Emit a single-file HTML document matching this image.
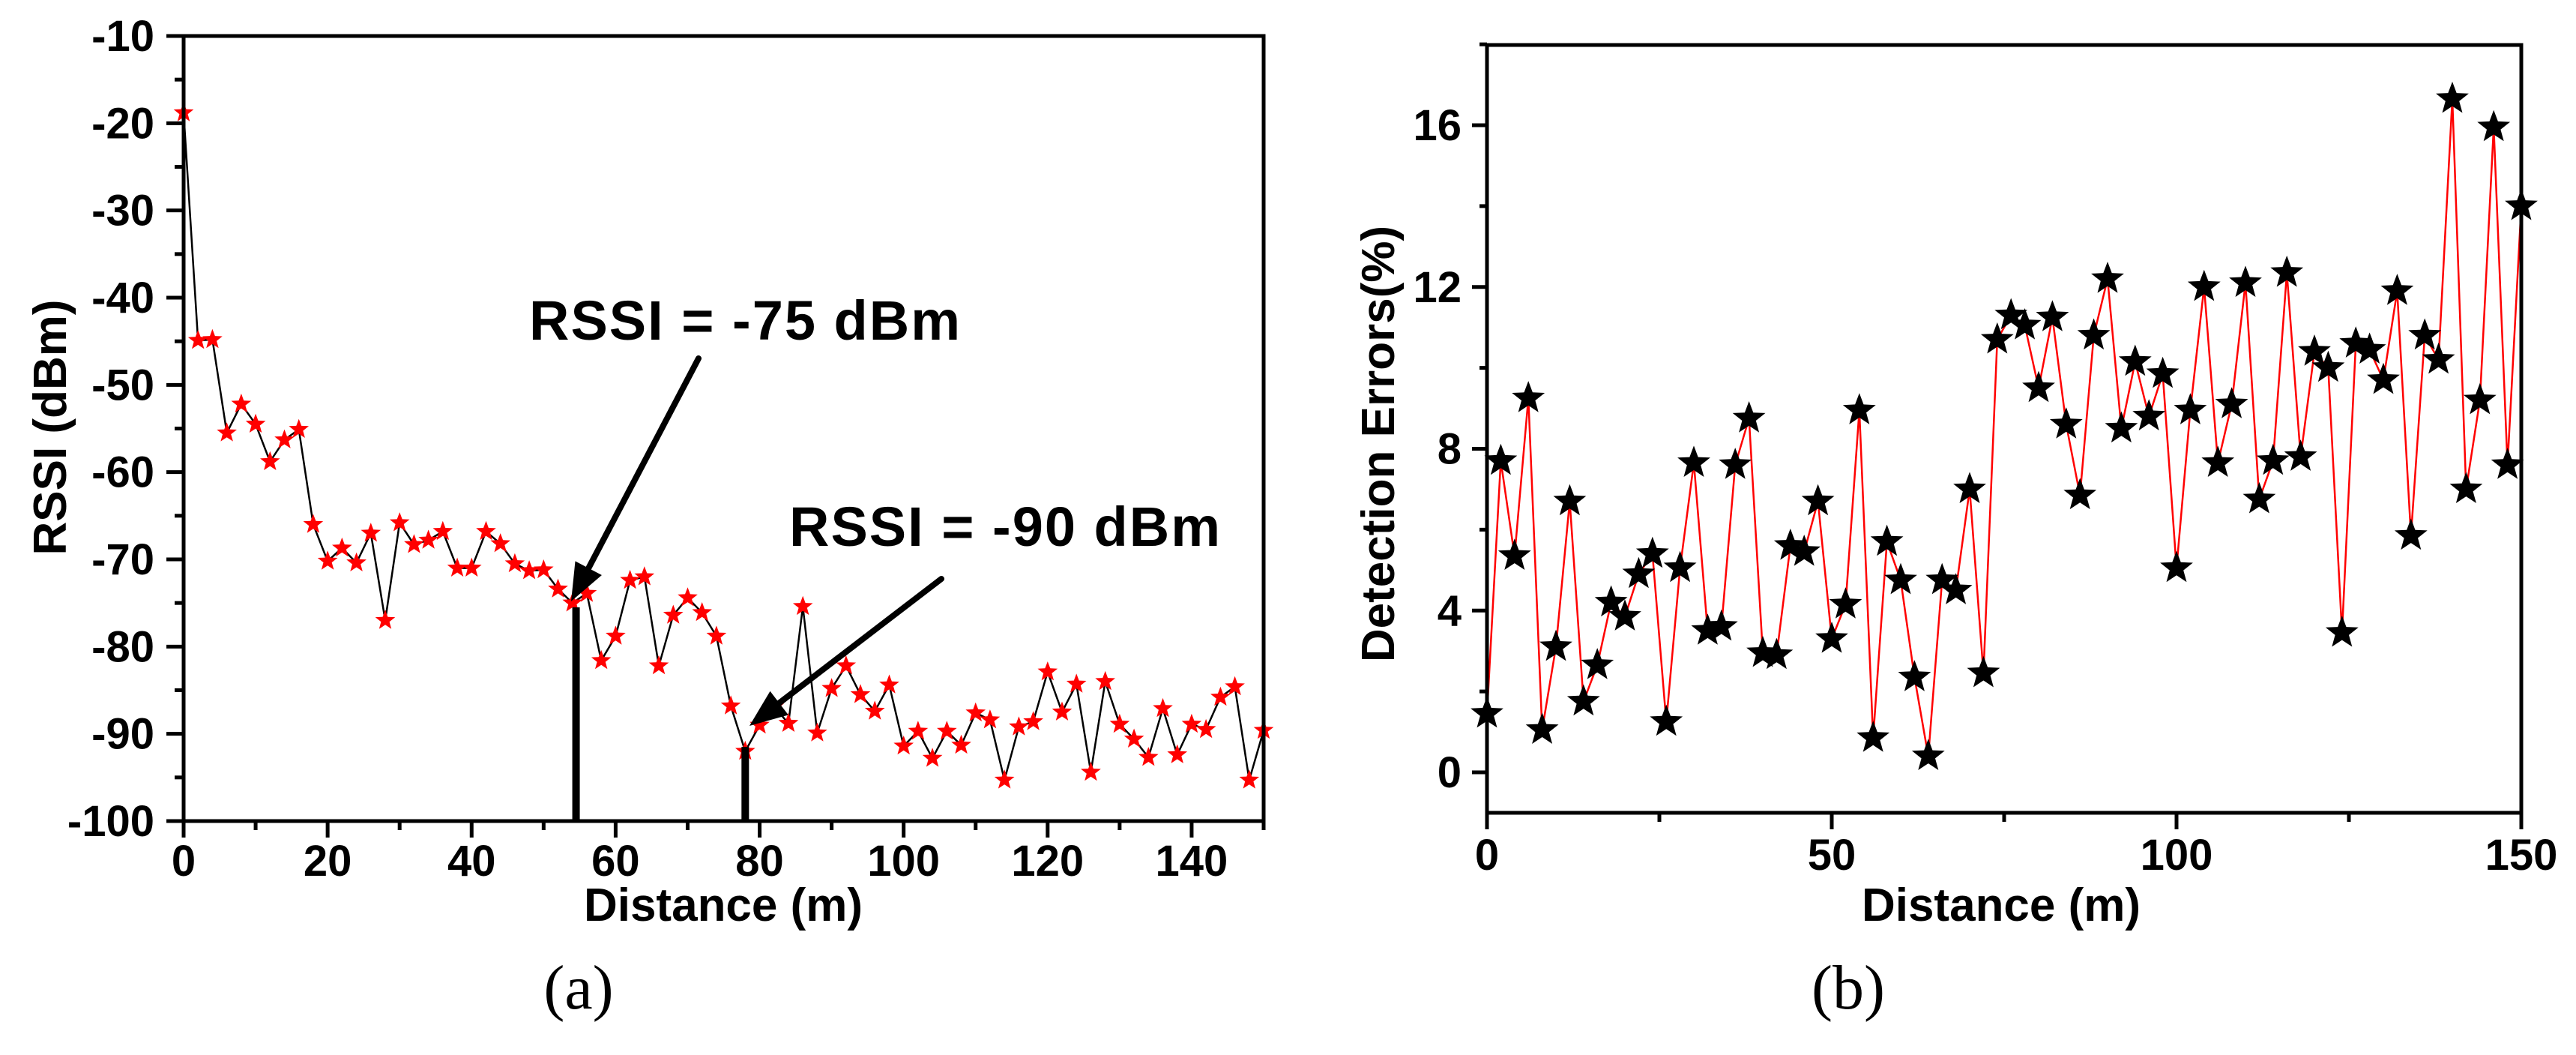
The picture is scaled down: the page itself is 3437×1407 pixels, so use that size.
<!DOCTYPE html>
<html><head><meta charset="utf-8"><style>
html,body{margin:0;padding:0;background:#fff;}
svg text{font-family:"Liberation Sans",Arial,sans-serif;font-weight:bold;}
</style></head><body>
<svg id="fig" xmlns="http://www.w3.org/2000/svg" width="3437" height="1402" viewBox="0 0 3437 1402">
<g id="chartA"></g>
<g id="chartB"></g>
</svg>
<script>
const distA = [];
for (let d = 0; d <= 150; d += 2) distA.push(d);
const rssiValues = [-18.8,-44.9,-44.8,-55.5,-52.2,-54.5,-58.8,-56.3,-55.1,-66,-70.2,-68.7,-70.4,-67,-77,-65.8,-68.3,-67.8,-66.8,-71,-71,-66.8,-68.2,-70.5,-71.3,-71.2,-73.4,-75,-73.9,-81.6,-78.8,-72.4,-72,-82.2,-76.4,-74.4,-76.1,-78.8,-86.8,-92,-89,-86.9,-88.8,-75.4,-89.9,-84.8,-82.2,-85.5,-87.4,-84.4,-91.4,-89.7,-92.8,-89.7,-91.3,-87.6,-88.4,-95.3,-89.2,-88.6,-82.9,-87.5,-84.3,-94.4,-84,-88.9,-90.6,-92.7,-87.1,-92.4,-88.9,-89.5,-85.8,-84.6,-95.3,-89.6];
const rssiTicks = [-10,-20,-30,-40,-50,-60,-70,-80,-90,-100];
const distTicksA = [0,20,40,60,80,100,120,140];
const errValues = [1.45,7.7,5.35,9.25,1.05,3.1,6.7,1.75,2.65,4.2,3.85,4.9,5.4,1.25,5.05,7.65,3.5,3.6,7.6,8.75,2.95,2.9,5.6,5.45,6.7,3.3,4.15,8.95,0.85,5.7,4.75,2.35,0.4,4.75,4.5,7.0,2.45,10.7,11.3,11.05,9.5,11.25,8.6,6.85,10.8,12.2,8.5,10.15,8.8,9.85,5.05,8.95,12.0,7.65,9.1,12.1,6.75,7.7,12.35,7.8,10.4,10.0,3.45,10.6,10.45,9.7,11.9,5.85,10.8,10.2,16.65,7.0,9.2,15.95,7.6,14.0];
const errTicks = [0,4,8,12,16];
const distTicksB = [0,50,100,150];

const NS = "http://www.w3.org/2000/svg";
function mk(parent, tag, attrs, text) {
  const e = document.createElementNS(NS, tag);
  for (const k in attrs) e.setAttribute(k, attrs[k]);
  if (text !== undefined) e.textContent = text;
  parent.appendChild(e);
  return e;
}
function starPath(cx, cy, r) {
  let p = "";
  for (let i = 0; i < 10; i++) {
    const rr = i % 2 === 0 ? r : r * 0.42;
    const a = -Math.PI / 2 + i * Math.PI / 5;
    p += (i ? "L" : "M") + (cx + rr * Math.cos(a)).toFixed(1) + "," + (cy + rr * Math.sin(a)).toFixed(1);
  }
  return p + "Z";
}

// ---------- Chart A ----------
const A = document.getElementById("chartA");
const ax = v => 245 + (v - 0) / 150 * (1686 - 245);
const ay = v => 48 + (-10 - v) / 90 * (1095 - 48);
{
  let pts = distA.map((d, i) => ax(d) + "," + ay(rssiValues[i])).join(" ");
  const l = mk(A, "polyline", {points: pts, fill: "none", stroke: "#000", "stroke-width": 2.5});
  
  
  distA.forEach((d, i) => {
    const s = mk(A, "path", {d: starPath(ax(d), ay(rssiValues[i]), 14), fill: "#ff0000"});
    
    
  });
  // vertical threshold lines
  const v1 = mk(A, "line", {x1: ax(54.5), y1: ay(-75.5), x2: ax(54.5), y2: 1095, stroke: "#000", "stroke-width": 10});
  
  
  const v2 = mk(A, "line", {x1: ax(78), y1: ay(-91.5), x2: ax(78), y2: 1095, stroke: "#000", "stroke-width": 10});
  
  
  // frame
  const f = mk(A, "rect", {x: 245, y: 48, width: 1441, height: 1047, fill: "none", stroke: "#000", "stroke-width": 5});
  
  
  rssiTicks.forEach(t => {
    mk(A, "line", {x1: 222, y1: ay(t), x2: 245, y2: ay(t), stroke: "#000", "stroke-width": 5});
    const tx = mk(A, "text", {x: 206, y: ay(t) + 20, "font-size": 58, "text-anchor": "end"}, t);
    
    
    if (t > -100) mk(A, "line", {x1: 233, y1: ay(t - 5), x2: 245, y2: ay(t - 5), stroke: "#000", "stroke-width": 5});
  });
  distTicksA.forEach(t => {
    mk(A, "line", {x1: ax(t), y1: 1095, x2: ax(t), y2: 1117, stroke: "#000", "stroke-width": 5});
    mk(A, "line", {x1: ax(t + 10), y1: 1095, x2: ax(t + 10), y2: 1107, stroke: "#000", "stroke-width": 5});
    const tx = mk(A, "text", {x: ax(t), y: 1168, "font-size": 58, "text-anchor": "middle"}, t);
    
    
  });
  const xt = mk(A, "text", {x: 965, y: 1228, "font-size": 62, "text-anchor": "middle"}, "Distance (m)");
  
  
  const yt = mk(A, "text", {x: 0, y: 0, "font-size": 62, "text-anchor": "middle", transform: "translate(88,570) rotate(-90)"}, "RSSI (dBm)");
  
  
  const n1 = mk(A, "text", {x: 706, y: 453, "font-size": 74, "letter-spacing": 2}, "RSSI = -75 dBm");
  
  
  const n2 = mk(A, "text", {x: 1053, y: 728, "font-size": 74, "letter-spacing": 2}, "RSSI = -90 dBm");
  
  
  // arrows
  function arrow(x1, y1, x2, y2, name) {
    const g = mk(A, "g", {});
    
    
    const dx = x2 - x1, dy = y2 - y1, L = Math.hypot(dx, dy), ux = dx / L, uy = dy / L;
    const bx = x2 - ux * 50, by = y2 - uy * 50;
    mk(g, "line", {x1: x1, y1: y1, x2: bx, y2: by, stroke: "#000", "stroke-width": 8, "stroke-linecap": "round"});
    mk(g, "polygon", {points: x2 + "," + y2 + " " + (bx - uy * 20) + "," + (by + ux * 20) + " " + (bx + uy * 20) + "," + (by - ux * 20), fill: "#000"});
  }
  arrow(932, 478, 762, 802, "arrow-75dbm");
  arrow(1256, 772, 1000, 968, "arrow-90dbm");
  const cap = mk(A, "text", {x: 772, y: 1345, "font-size": 84, "text-anchor": "middle", style: "font-family:'Liberation Serif',serif;font-weight:normal"}, "(a)");
  
  
}

// ---------- Chart B ----------
const B = document.getElementById("chartB");
const bx = v => 1984 + v / 150 * (3364 - 1984);
const by = v => 1030 - v * (1030 - 167) / 16;
{
  let pts = distA.map((d, i) => bx(d) + "," + by(errValues[i])).join(" ");
  const l = mk(B, "polyline", {points: pts, fill: "none", stroke: "#ff0000", "stroke-width": 2.5});
  
  
  distA.forEach((d, i) => {
    const s = mk(B, "path", {d: starPath(bx(d), by(errValues[i]), 23), fill: "#000"});
    
    
  });
  const f = mk(B, "rect", {x: 1984, y: 60, width: 1380, height: 1024, fill: "none", stroke: "#000", "stroke-width": 5});
  
  
  errTicks.forEach(t => {
    mk(B, "line", {x1: 1964, y1: by(t), x2: 1984, y2: by(t), stroke: "#000", "stroke-width": 5});
    mk(B, "line", {x1: 1974, y1: by(t + 2), x2: 1984, y2: by(t + 2), stroke: "#000", "stroke-width": 5});
    const tx = mk(B, "text", {x: 1950, y: by(t) + 20, "font-size": 58, "text-anchor": "end"}, t);
    
    
  });
  distTicksB.forEach(t => {
    mk(B, "line", {x1: bx(t), y1: 1084, x2: bx(t), y2: 1106, stroke: "#000", "stroke-width": 5});
    if (t < 150) mk(B, "line", {x1: bx(t + 25), y1: 1084, x2: bx(t + 25), y2: 1096, stroke: "#000", "stroke-width": 5});
    const tx = mk(B, "text", {x: bx(t), y: 1160, "font-size": 58, "text-anchor": "middle"}, t);
    
    
  });
  const xt = mk(B, "text", {x: 2670, y: 1228, "font-size": 62, "text-anchor": "middle"}, "Distance (m)");
  
  
  const yt = mk(B, "text", {x: 0, y: 0, "font-size": 62, "text-anchor": "middle", transform: "translate(1860,592) rotate(-90)"}, "Detection Errors(%)");
  
  
  const cap = mk(B, "text", {x: 2466, y: 1345, "font-size": 84, "text-anchor": "middle", style: "font-family:'Liberation Serif',serif;font-weight:normal"}, "(b)");
  
  
}
</script>
</body></html>
